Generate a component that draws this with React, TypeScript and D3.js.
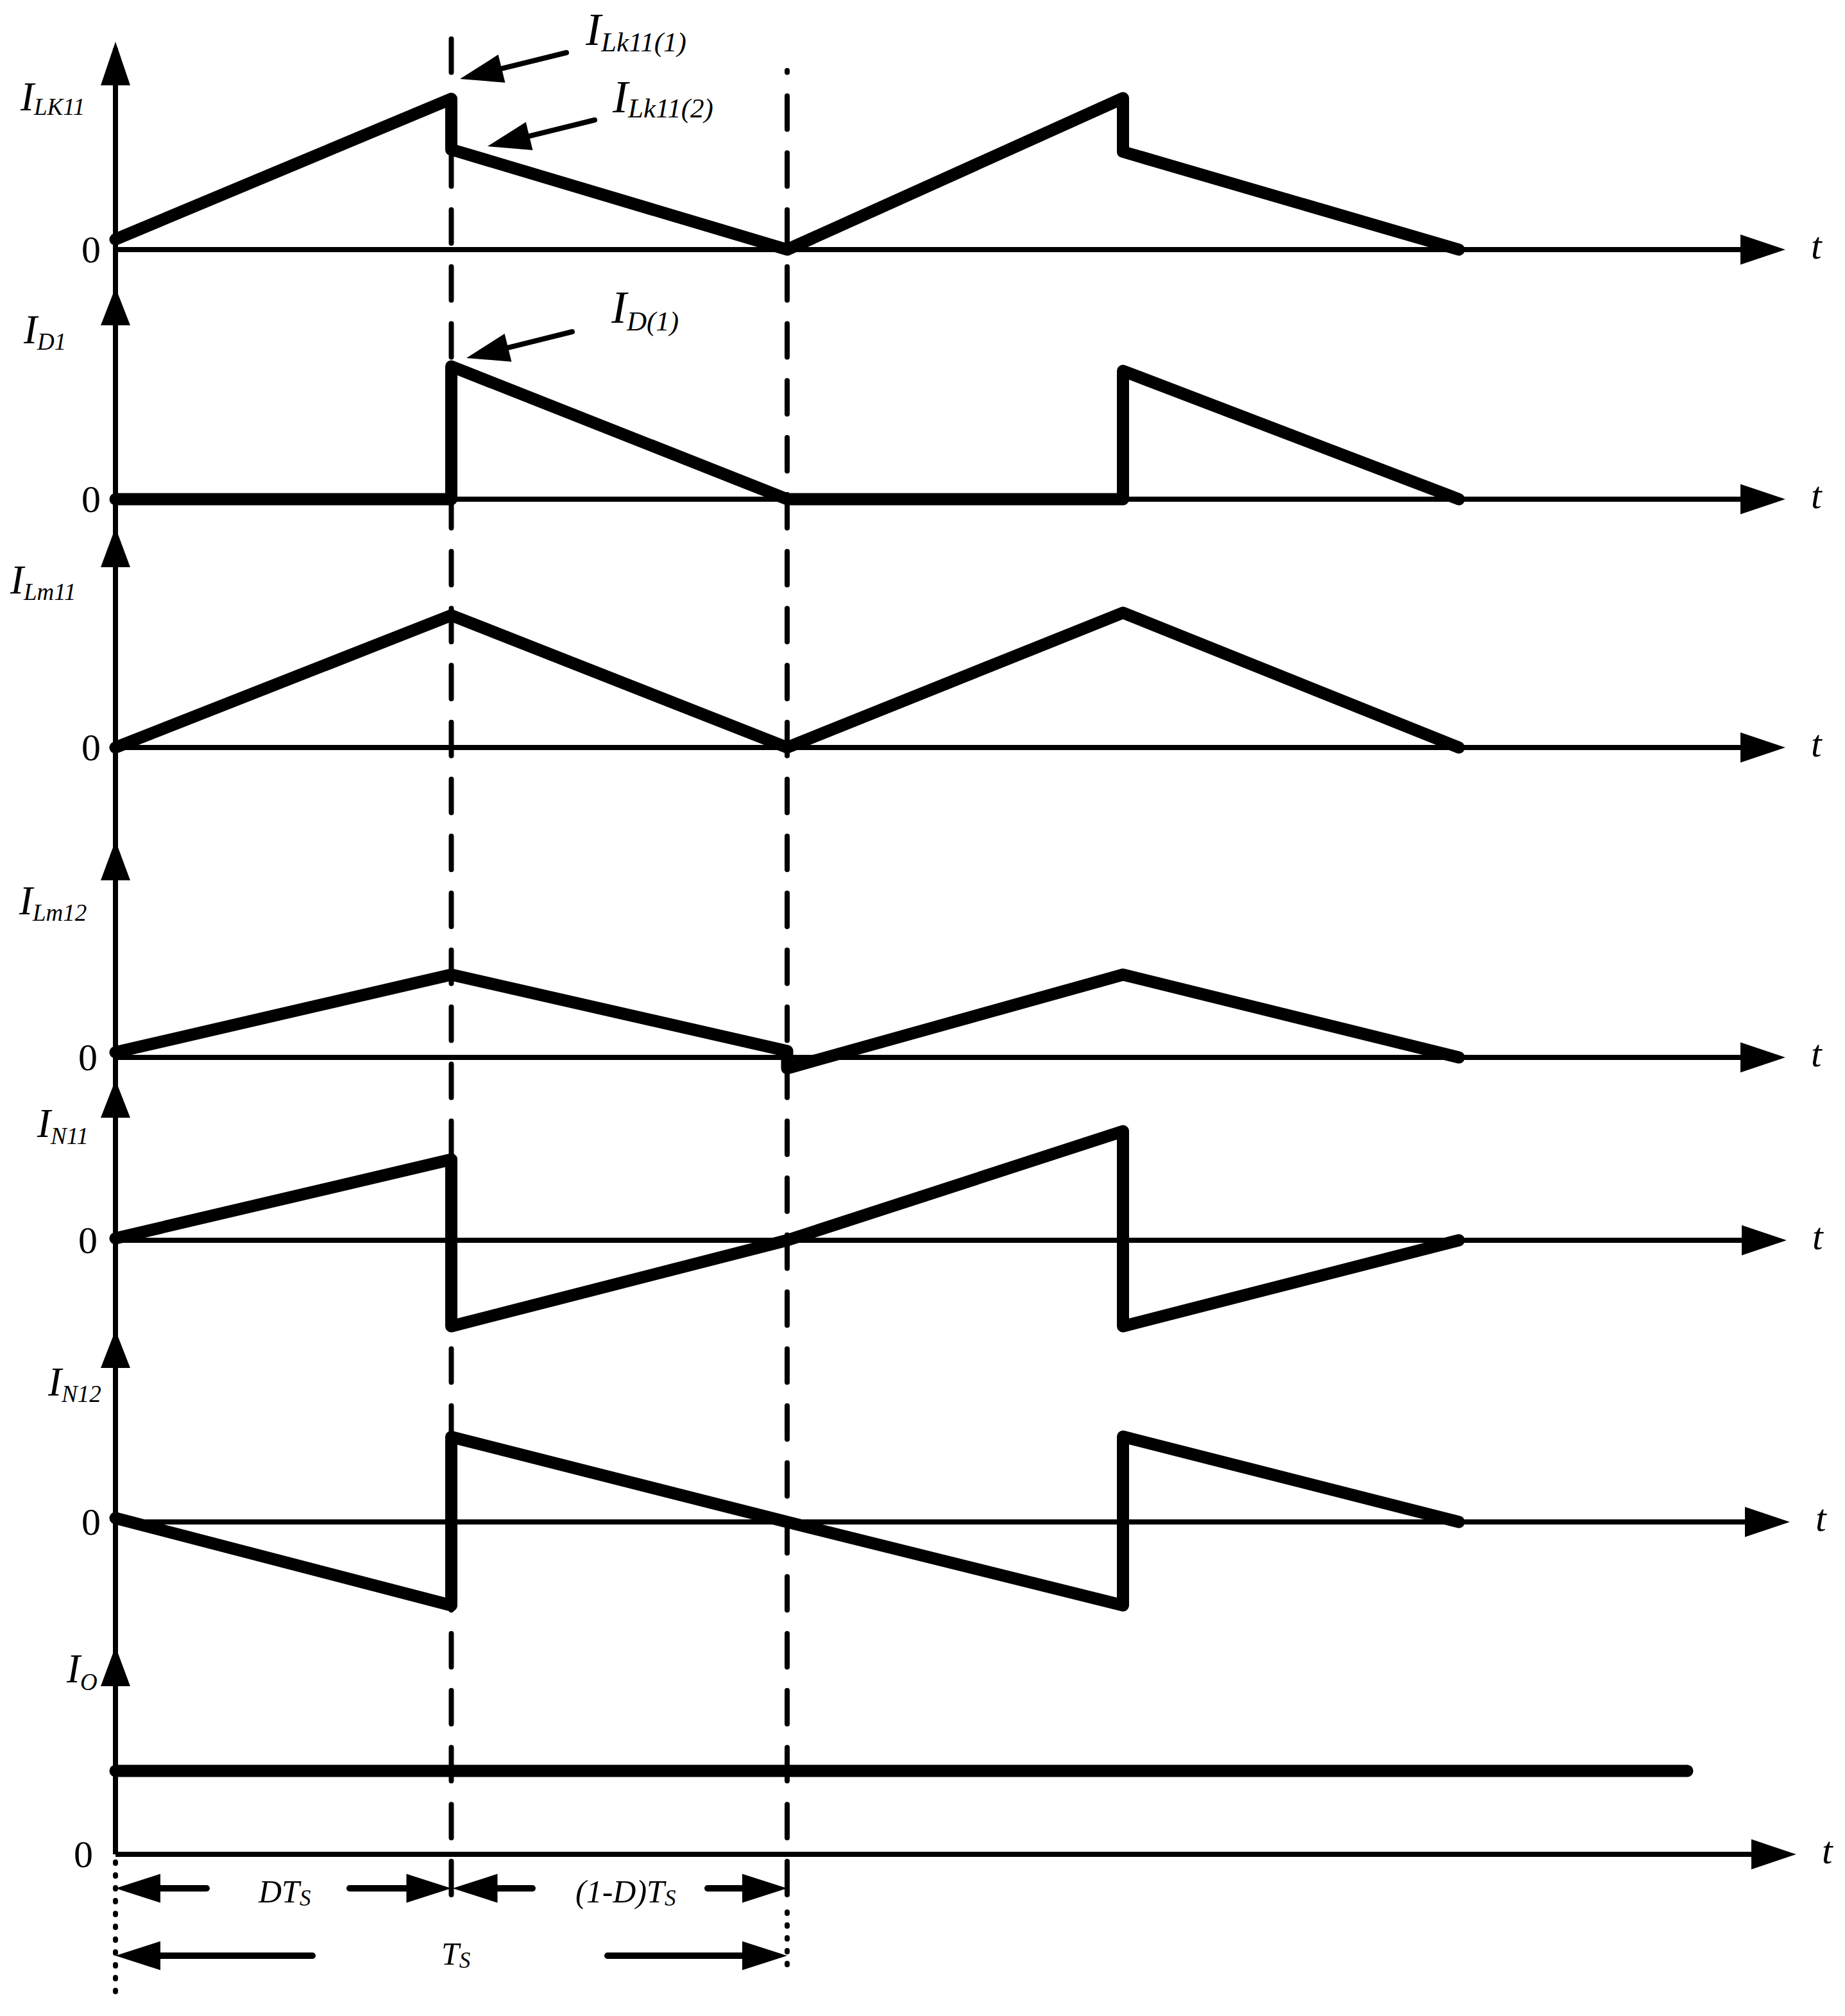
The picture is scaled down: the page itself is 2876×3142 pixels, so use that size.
import React from "react";
import * as d3 from "d3";

const W = 2876;
const H = 3142;
const FONT = "'Liberation Serif', 'Times New Roman', serif";

// time axis in units of Ts (D = 0.5)
const periodMarks = [0, 0.5, 1];

// ---- waveform data (time in Ts, value in relative units) ----
const iLk11T = [0, 0.5, 0.5, 1, 1.5, 1.5, 2];
const iLk11V = [0.064, 0.94, 0.624, 0, 0.944, 0.61, 0];

const iD1T = [0, 0.5, 0.5, 1, 1.5, 1.5, 2];
const iD1V = [0, 0, 0.828, 0, 0, 0.8, 0];

const iLm11T = [0, 0.5, 1, 1.5, 2];
const iLm11V = [0, 0.824, 0, 0.84, 0];

const iLm12T = [0, 0.5, 1, 1, 1.5, 2];
const iLm12V = [0.032, 0.516, 0.04, -0.068, 0.516, 0];

const iN11T = [0, 0.5, 0.5, 1, 1.5, 1.5, 2];
const iN11V = [0.012, 0.504, -0.536, 0, 0.68, -0.536, 0];

const iN12T = [0, 0.5, 0.5, 1, 1.5, 1.5, 2];
const iN12V = [0.024, -0.52, 0.53, 0, -0.52, 0.532, 0];

const iOT = [0, 2.34];
const iOV = [0.52, 0.52];

// ---- labels ----
const labelSubs = ["LK11", "D1", "Lm11", "Lm12", "N11", "N12", "O"];

// ---- layout ----
const X0 = 180;
const UNIT = 250;
const baselines = [389, 778, 1165, 1648, 1933, 2372, 2890];
const arrowTips = [65, 448, 822, 1310, 1683, 2073, 2566];
const arrowLens = [68, 59, 62, 62, 59, 59, 62];
const axisEnds = [2783, 2783, 2783, 2783, 2785, 2790, 2800];
const tLabelX = [2823, 2823, 2823, 2823, 2825, 2830, 2840];
const labelPos = [
  [32, 172, 7],
  [37, 535, 10],
  [16, 925, 10],
  [30, 1425, 10],
  [58, 1772, 11],
  [75, 2175, 10],
  [104, 2622, 12],
];
const zeroX = [157, 157, 157, 152, 152, 157, 145];

function head(tipX: number, tipY: number, fromX: number, fromY: number, len: number, w: number) {
  const dx = tipX - fromX;
  const dy = tipY - fromY;
  const L = Math.hypot(dx, dy);
  const ux = dx / L;
  const uy = dy / L;
  const bx = tipX - ux * len;
  const by = tipY - uy * len;
  const px = (-uy * w) / 2;
  const py = (ux * w) / 2;
  return { pts: `${tipX},${tipY} ${bx + px},${by + py} ${bx - px},${by - py}`, bx, by };
}

function Arrow({ x1, y1, x2, y2, len = 67, w = 45, sw = 8 }: any) {
  const h = head(x2, y2, x1, y1, len, w);
  return (
    <g>
      <line x1={x1} y1={y1} x2={h.bx} y2={h.by} stroke="#000" strokeWidth={sw} strokeLinecap="round" />
      <polygon points={h.pts} fill="#000" />
    </g>
  );
}

export default function App() {
  const x = d3.scaleLinear().domain([0, 2]).range([X0, X0 + 2094]);
  const series = [
    [iLk11T, iLk11V],
    [iD1T, iD1V],
    [iLm11T, iLm11V],
    [iLm12T, iLm12V],
    [iN11T, iN11V],
    [iN12T, iN12V],
    [iOT, iOV],
  ];

  const xD = x(periodMarks[1]);
  const xT = x(periodMarks[2]);
  const xS = x(periodMarks[0]);

  const P = 88.76;
  const dashStart = 60.7;
  const mod = (a: number) => ((a % P) + P) % P;

  const rowA = 2943;
  const rowB = 3048;

  return (
    <svg width={W} height={H} viewBox={`0 0 ${W} ${H}`} style={{ position: "absolute", left: 0, top: 0, display: "block" }}>
      <rect x={0} y={0} width={W} height={H} fill="#fff" />

      {/* vertical axis */}
      <line x1={X0} y1={arrowTips[0] + 10} x2={X0} y2={baselines[6]} stroke="#000" strokeWidth={8} />

      {/* dashed period lines */}
      <line x1={xD} y1={60} x2={xD} y2={2953} stroke="#000" strokeWidth={8} strokeLinecap="round"
        strokeDasharray={`52 ${P - 52}`} strokeDashoffset={mod(60 - dashStart)} />
      <line x1={xT} y1={110} x2={xT} y2={2953} stroke="#000" strokeWidth={8} strokeLinecap="round"
        strokeDasharray={`52 ${P - 52}`} strokeDashoffset={mod(110 - dashStart)} />
      {/* dotted lines at the bottom */}
      <line x1={xS} y1={2902} x2={xS} y2={3119} stroke="#000" strokeWidth={8} strokeLinecap="round" strokeDasharray="2 18" />
      <line x1={xT} y1={2980} x2={xT} y2={3074} stroke="#000" strokeWidth={8} strokeLinecap="round" strokeDasharray="2 18" />

      {baselines.map((b, i) => {
        const y = d3.scaleLinear().domain([0, 1]).range([b, b - UNIT]);
        const [tt, vv] = series[i];
        const pts = tt.map((t, k) => [t, vv[k]] as [number, number]);
        const line = d3
          .line<[number, number]>()
          .x((d) => x(d[0]))
          .y((d) => y(d[1]));
        const ax = axisEnds[i];
        const tip = arrowTips[i];
        const [lx, ly, sdy] = labelPos[i];
        return (
          <g key={i}>
            {/* horizontal axis */}
            <line x1={X0} y1={b} x2={ax - 60} y2={b} stroke="#000" strokeWidth={8} />
            <polygon points={`${ax},${b} ${ax - 70},${b - 23.5} ${ax - 70},${b + 23.5}`} fill="#000" />
            <text x={tLabelX[i]} y={b + 14} fontFamily={FONT} fontStyle="italic" fontSize={60} fill="#000">t</text>
            {/* vertical arrow head */}
            <polygon points={`${X0},${tip} ${X0 - 23},${tip + arrowLens[i]} ${X0 + 23},${tip + arrowLens[i]}`} fill="#000" />
            {/* zero label */}
            <text x={zeroX[i]} y={b + 20} textAnchor="end" fontFamily={FONT} fontSize={60} fill="#000">0</text>
            {/* axis label */}
            <text x={lx} y={ly} fontFamily={FONT} fontStyle="italic" fontSize={63} fill="#000">
              I
              <tspan fontSize={37} dy={sdy}>{labelSubs[i]}</tspan>
            </text>
            {/* waveform */}
            <path d={line(pts) || ""} fill="none" stroke="#000" strokeWidth={19} strokeLinejoin="round" strokeLinecap="round" />
          </g>
        );
      })}

      {/* annotations */}
      <Arrow x1={883} y1={82} x2={717} y2={123} />
      <Arrow x1={927} y1={187} x2={760} y2={228} />
      <Arrow x1={892} y1={517} x2={727} y2={558} />
      <text x={913} y={70} fontFamily={FONT} fontStyle="italic" fontSize={72} fill="#000">
        I<tspan fontSize={43} dy={10}>Lk11(1)</tspan>
      </text>
      <text x={955} y={175} fontFamily={FONT} fontStyle="italic" fontSize={72} fill="#000">
        I<tspan fontSize={43} dy={8}>Lk11(2)</tspan>
      </text>
      <text x={953} y={503} fontFamily={FONT} fontStyle="italic" fontSize={72} fill="#000">
        I<tspan fontSize={43} dy={12}>D(1)</tspan>
      </text>

      {/* dimension arrows */}
      <Arrow x1={322} y1={rowA} x2={xS} y2={rowA} len={70} w={45} sw={10} />
      <Arrow x1={545} y1={rowA} x2={xD} y2={rowA} len={70} w={45} sw={10} />
      <Arrow x1={830} y1={rowA} x2={xD + 2} y2={rowA} len={70} w={45} sw={10} />
      <Arrow x1={1103} y1={rowA} x2={xT} y2={rowA} len={70} w={45} sw={10} />
      <Arrow x1={487} y1={rowB} x2={xS} y2={rowB} len={70} w={45} sw={10} />
      <Arrow x1={947} y1={rowB} x2={xT} y2={rowB} len={70} w={45} sw={10} />
      <text x={403} y={2965} fontFamily={FONT} fontStyle="italic" fontSize={50} fill="#000">
        DT<tspan fontSize={35} dy={5}>S</tspan>
      </text>
      <text x={897} y={2965} fontFamily={FONT} fontStyle="italic" fontSize={50} fill="#000">
        (1-D)T<tspan fontSize={35} dy={5}>S</tspan>
      </text>
      <text x={688} y={3062} fontFamily={FONT} fontStyle="italic" fontSize={50} fill="#000">
        T<tspan fontSize={35} dy={5}>S</tspan>
      </text>
    </svg>
  );
}
